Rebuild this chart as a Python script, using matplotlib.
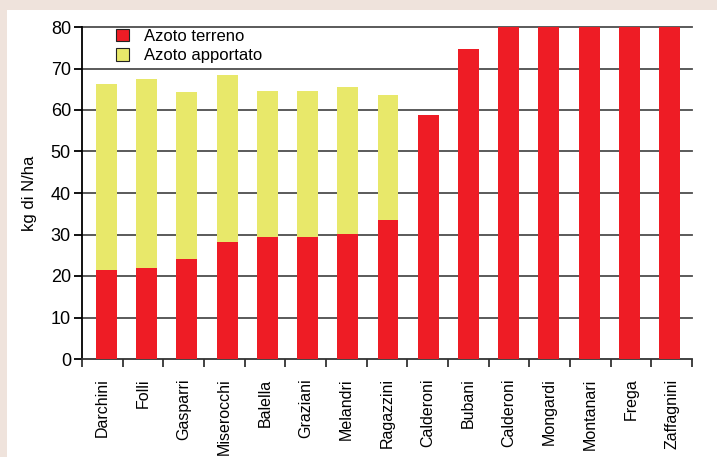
import matplotlib
matplotlib.use("Agg")
import matplotlib.pyplot as plt
import numpy as np
from matplotlib.patches import Patch, Rectangle

# ---------------------------------------------------------------------------
# Data
# ---------------------------------------------------------------------------
farms = ["Darchini", "Folli", "Gasparri", "Miserocchi", "Balella", "Graziani",
         "Melandri", "Ragazzini", "Calderoni", "Bubani", "Calderoni",
         "Mongardi", "Montanari", "Frega", "Zaffagnini"]
azoto_terreno = [21.4, 22.0, 24.2, 28.3, 29.3, 29.3, 30.2, 33.5, 58.8, 74.7,
                 80, 80, 80, 80, 80]
azoto_apportato = [44.9, 45.5, 40.1, 40.1, 35.3, 35.3, 35.3, 30.1, 0, 0,
                   0, 0, 0, 0, 0]
y_ticks = [0, 10, 20, 30, 40, 50, 60, 70, 80]

RED = "#ee1c25"
YELLOW = "#e8e86a"
BG = "#efe3dc"
FONT = ["Liberation Sans Narrow", "Liberation Sans", "DejaVu Sans"]

plt.rcParams["font.family"] = FONT

fig = plt.figure(figsize=(7.17, 4.57), dpi=100)
fig.patch.set_facecolor(BG)
# white panel behind the chart
fig.patches.append(Rectangle((7 / 717, 0), 1, 1 - 10 / 457,
                             transform=fig.transFigure, facecolor="white",
                             edgecolor="none", zorder=-10))

ax = fig.add_axes([82 / 717, 1 - 359 / 457, 610 / 717, 332 / 457])
ax.set_facecolor("none")

x = np.arange(len(farms))
ax.bar(x, azoto_terreno, width=0.52, color=RED, zorder=3)
ax.bar(x, azoto_apportato, width=0.52, bottom=azoto_terreno, color=YELLOW,
       zorder=3)

# bars sit slightly off the tick slots in the original
x0, x1 = -0.61, len(farms) - 0.44
ax.set_xlim(x0, x1)
ax.set_ylim(0, 80)

edges = np.linspace(x0, x1, len(farms) + 1)
centers = (edges[:-1] + edges[1:]) / 2

# grid lines
for t in y_ticks[1:]:
    ax.axhline(t, color="#4d4d4d", lw=1.3, zorder=1, clip_on=False)

for s in ["top", "right"]:
    ax.spines[s].set_visible(False)
ax.spines["left"].set_linewidth(1.3)
ax.spines["bottom"].set_linewidth(1.3)
ax.spines["bottom"].set_color("#333333")

ax.set_yticks(y_ticks)
ax.tick_params(axis="y", direction="out", length=6, width=1.3,
               labelsize=13, pad=2)
ax.set_xticks(centers)
ax.set_xticklabels(farms, rotation=90, fontsize=11.5)
ax.tick_params(axis="x", which="major", length=0, pad=14)
ax.set_xticks(edges, minor=True)
ax.tick_params(axis="x", which="minor", direction="out", length=6, width=1.3,
               color="#333333")

ax.set_ylabel("kg di N/ha", fontsize=12, labelpad=10)

handles = [Patch(facecolor=RED, edgecolor="#222222", lw=0.8, label="Azoto terreno"),
           Patch(facecolor=YELLOW, edgecolor="#222222", lw=0.8, label="Azoto apportato")]
leg = ax.legend(handles=handles, loc="upper left", bbox_to_anchor=(0.045, 1.015),
                frameon=False, fontsize=12, handlelength=0.8, handleheight=0.8,
                handletextpad=0.9, labelspacing=0.25, borderaxespad=0)
leg.set_zorder(5)

fig.savefig("out.png", dpi=100, facecolor=fig.get_facecolor())
